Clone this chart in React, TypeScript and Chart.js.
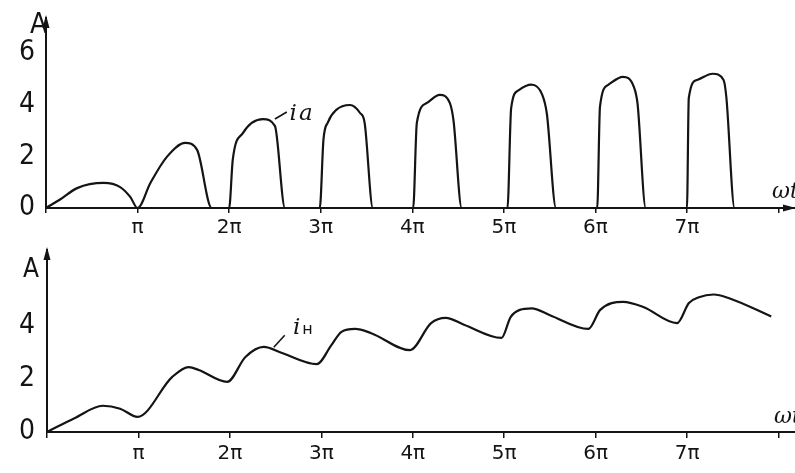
import React, { useEffect, useRef } from "react";
import { Chart, registerables } from "chart.js";

Chart.register(...registerables);

// ---- data (x in multiples of π, y in A) ----
const X_TICK_LABELS = ["", "π", "2π", "3π", "4π", "5π", "6π", "7π", ""];
const TOP_Y_TICKS = [0, 2, 4, 6];
const BOTTOM_Y_TICKS = [0, 2, 4];

const topX = [
  0, 0.15, 0.34, 0.63, 0.81, 0.92, 1.0,
  1.14, 1.32, 1.52, 1.65, 1.81,
  2.0, 2.04, 2.15, 2.37, 2.5, 2.61,
  2.99, 3.03, 3.08, 3.17, 3.32, 3.43, 3.48, 3.57,
  4.01, 4.05, 4.16, 4.3, 4.41, 4.45, 4.54,
  5.04, 5.08, 5.16, 5.3, 5.42, 5.47, 5.57,
  6.02, 6.05, 6.14, 6.3, 6.42, 6.46, 6.55,
  7.0, 7.02, 7.11, 7.28, 7.4, 7.43, 7.52, 8.18,
];
const topY = [
  0, 0.32, 0.77, 0.97, 0.81, 0.43, 0,
  0.97, 1.98, 2.52, 2.25, 0,
  0, 1.88, 2.9, 3.44, 3.18, 0,
  0, 2.64, 3.33, 3.8, 3.99, 3.68, 3.3, 0,
  0, 3.3, 4.07, 4.38, 4.07, 3.4, 0,
  0, 3.87, 4.56, 4.78, 4.38, 3.65, 0,
  0, 3.92, 4.77, 5.08, 4.69, 4.05, 0,
  0, 4.26, 4.96, 5.2, 4.96, 4.3, 0, 0,
];

const bottomX = [
  0, 0.3, 0.61, 0.8, 0.99, 1.37, 1.55, 1.66, 1.97, 2.17, 2.37, 2.57, 2.95,
  3.11, 3.22, 3.37, 3.54, 3.97, 4.2, 4.36, 4.56, 4.97, 5.07, 5.17, 5.3, 5.5,
  5.92, 6.05, 6.3, 6.52, 6.89, 7.02, 7.13, 7.29, 7.46, 7.92,
];
const bottomY = [
  0, 0.52, 0.99, 0.88, 0.57, 2.08, 2.45, 2.34, 1.89, 2.83, 3.21, 2.98, 2.56,
  3.28, 3.78, 3.89, 3.74, 3.09, 4.11, 4.31, 4.05, 3.55, 4.34, 4.61, 4.67, 4.41,
  3.89, 4.61, 4.91, 4.72, 4.11, 4.87, 5.09, 5.19, 5.05, 4.36,
];

const INK = "#141414";

type PanelCfg = {
  height: number;
  padTop: number;
  yAxisW: number;
  xAxisH: number;
  xMax: number;
  yMax: number;
  yTicks: number[];
  xTickLen: number;
  xTickPad: number;
  yTickPad: number;
  showArrowX: boolean;
  aLabel: { x: number; y: number; size: number };
  wtLabel: { x: number; y: number };
  curveLabel: { main: string; sub: string; lx: number; ly: number; subSize: number; subFont: string };
  leader: { x0: number; y0: number; x1: number; y1: number };
};

function makeDecor(cfg: PanelCfg) {
  return {
    id: "decor",
    afterDraw(chart: any) {
      const { ctx, chartArea: a } = chart;
      const xs = chart.scales.x;
      const ys = chart.scales.y;
      ctx.save();
      ctx.fillStyle = INK;
      ctx.strokeStyle = INK;
      // y-axis arrowhead
      ctx.beginPath();
      ctx.moveTo(a.left, a.top - 3);
      ctx.lineTo(a.left - 3.5, a.top + 10);
      ctx.lineTo(a.left + 3.5, a.top + 10);
      ctx.closePath();
      ctx.fill();
      // x-axis arrowhead
      if (cfg.showArrowX) {
        ctx.beginPath();
        ctx.moveTo(a.right + 1, a.bottom);
        ctx.lineTo(a.right - 12, a.bottom - 3.5);
        ctx.lineTo(a.right - 12, a.bottom + 3.5);
        ctx.closePath();
        ctx.fill();
      }
      // axis names
      ctx.textBaseline = "alphabetic";
      ctx.textAlign = "left";
      ctx.font = `${cfg.aLabel.size}px 'DejaVu Sans Condensed', 'DejaVu Sans', sans-serif`;
      ctx.fillText("A", cfg.aLabel.x, cfg.aLabel.y);
      ctx.font = "italic 22px 'DejaVu Serif', serif";
      ctx.fillText("ωt", cfg.wtLabel.x, cfg.wtLabel.y);
      // curve label with leader line
      const L = cfg.leader;
      ctx.lineWidth = 1.6;
      ctx.beginPath();
      ctx.moveTo(xs.getPixelForValue(L.x0), ys.getPixelForValue(L.y0));
      ctx.lineTo(xs.getPixelForValue(L.x1), ys.getPixelForValue(L.y1));
      ctx.stroke();
      const lx = xs.getPixelForValue(cfg.curveLabel.lx);
      const ly = ys.getPixelForValue(cfg.curveLabel.ly);
      ctx.font = "italic 23px 'DejaVu Serif', serif";
      ctx.fillText(cfg.curveLabel.main, lx, ly);
      const w = ctx.measureText(cfg.curveLabel.main).width;
      ctx.font = `${cfg.curveLabel.subSize}px ${cfg.curveLabel.subFont}`;
      ctx.fillText(cfg.curveLabel.sub, lx + w + 2, ly);
      ctx.restore();
    },
  };
}

function Panel({ xs, ys, cfg, top }: { xs: number[]; ys: number[]; cfg: PanelCfg; top: number }) {
  const ref = useRef<HTMLCanvasElement | null>(null);
  useEffect(() => {
    if (!ref.current) return;
    const chart = new Chart(ref.current, {
      type: "line",
      data: {
        datasets: [
          {
            data: xs.map((x, i) => ({ x, y: ys[i] })),
            borderColor: INK,
            borderWidth: 2.2,
            pointRadius: 0,
            cubicInterpolationMode: "monotone",
            fill: false,
          },
        ],
      },
      options: {
        responsive: false,
        animation: false,
        devicePixelRatio: 1,
        layout: { padding: { top: cfg.padTop, left: 0, right: 0, bottom: 0 } },
        plugins: { legend: { display: false }, tooltip: { enabled: false }, title: { display: false } },
        scales: {
          x: {
            type: "linear",
            min: 0,
            max: cfg.xMax,
            afterFit: (s: any) => {
              s.height = cfg.xAxisH;
              s.paddingLeft = 0;
              s.paddingRight = 0;
            },
            border: { display: true, color: INK, width: 2 },
            grid: { drawOnChartArea: false, drawTicks: true, tickLength: cfg.xTickLen, color: INK, lineWidth: 1.5 },
            ticks: {
              stepSize: 1,
              includeBounds: false,
              autoSkip: false,
              maxRotation: 0,
              padding: cfg.xTickPad,
              color: INK,
              font: { family: "'DejaVu Sans', sans-serif", size: 20 },
              callback: (v: any) => {
                const n = Math.round(Number(v));
                return Math.abs(Number(v) - n) < 1e-6 ? X_TICK_LABELS[n] ?? "" : "";
              },
            },
          },
          y: {
            type: "linear",
            min: 0,
            max: cfg.yMax,
            afterFit: (s: any) => {
              s.width = cfg.yAxisW;
              s.paddingTop = 0;
              s.paddingBottom = 0;
            },
            border: { display: true, color: INK, width: 2 },
            grid: { drawOnChartArea: false, drawTicks: false },
            ticks: {
              stepSize: 2,
              includeBounds: false,
              padding: cfg.yTickPad,
              color: INK,
              font: { family: "'DejaVu Sans Condensed', 'DejaVu Sans', sans-serif", size: 28 },
              callback: (v: any) => (cfg.yTicks.includes(Number(v)) ? String(v) : ""),
            },
          },
        },
      } as any,
      plugins: [makeDecor(cfg)],
    });
    return () => chart.destroy();
  }, [xs, ys, cfg]);
  return (
    <canvas
      ref={ref}
      width={795}
      height={cfg.height}
      style={{ position: "absolute", left: 0, top, width: 795, height: cfg.height, display: "block" }}
    />
  );
}

const topCfg: PanelCfg = {
  height: 236,
  padTop: 18,
  yAxisW: 46,
  xAxisH: 28,
  xMax: 8.18,
  yMax: 7.36,
  yTicks: TOP_Y_TICKS,
  xTickLen: 5,
  xTickPad: 3,
  yTickPad: 11,
  showArrowX: true,
  aLabel: { x: 30, y: 33, size: 28 },
  wtLabel: { x: 772, y: 198 },
  curveLabel: { main: "i", sub: "a", lx: 2.66, ly: 3.4, subSize: 19, subFont: "italic 'DejaVu Serif', serif" },
  leader: { x0: 2.5, y0: 3.45, x1: 2.63, y1: 3.72 },
};

const bottomCfg: PanelCfg = {
  height: 237,
  padTop: 14,
  yAxisW: 47,
  xAxisH: 41,
  xMax: 8.18,
  yMax: 6.87,
  yTicks: BOTTOM_Y_TICKS,
  xTickLen: 6,
  xTickPad: 4,
  yTickPad: 12,
  showArrowX: false,
  aLabel: { x: 23, y: 41, size: 26 },
  wtLabel: { x: 774, y: 187 },
  curveLabel: { main: "i", sub: "н", lx: 2.69, ly: 3.7, subSize: 16, subFont: "'DejaVu Sans', sans-serif" },
  leader: { x0: 2.48, y0: 3.2, x1: 2.6, y1: 3.65 },
};

export default function App() {
  useEffect(() => {
    document.body.style.margin = "0";
    document.body.style.background = "#fff";
  }, []);
  return (
    <div style={{ position: "fixed", left: 0, top: 0, width: 795, height: 473, background: "#fff", overflow: "hidden" }}>
      <Panel xs={topX} ys={topY} cfg={topCfg} top={0} />
      <Panel xs={bottomX} ys={bottomY} cfg={bottomCfg} top={236} />
    </div>
  );
}
